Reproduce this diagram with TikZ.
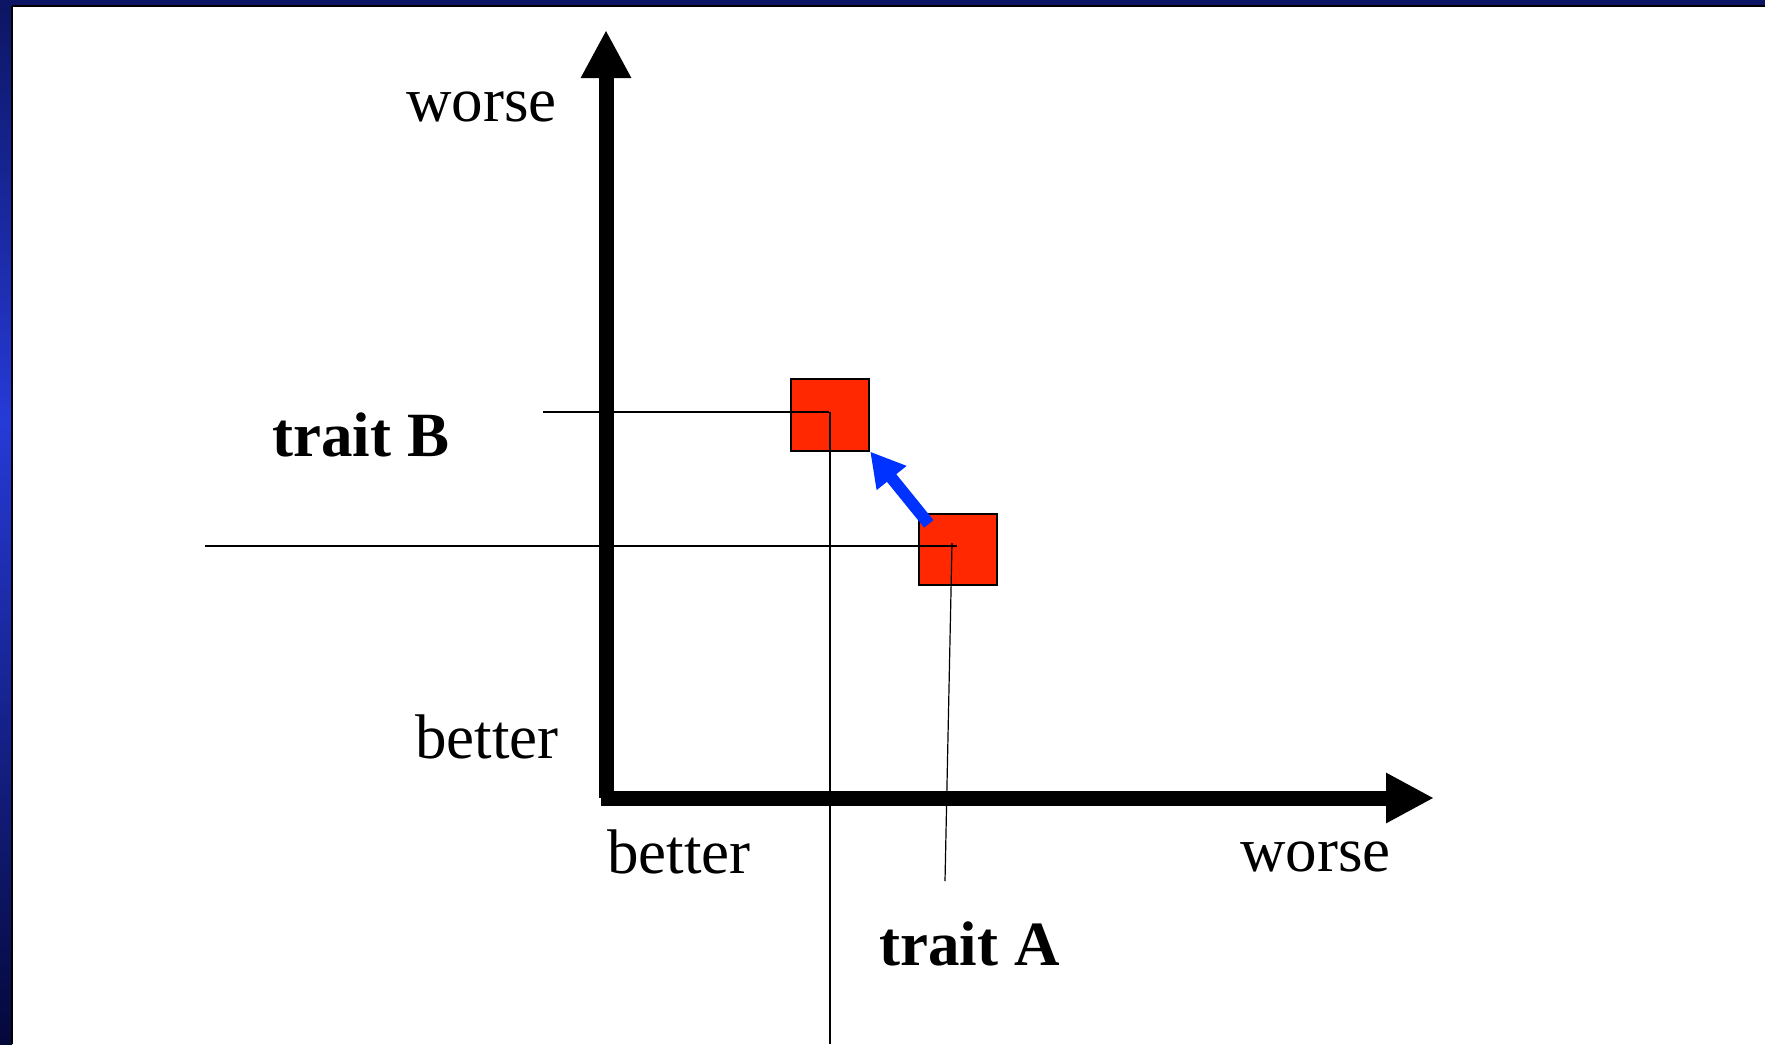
\documentclass[tikz,border=0pt]{standalone}
\usepackage{fontspec}
\setmainfont{Liberation Serif}
\definecolor{framenavy}{RGB}{12,22,100}
\definecolor{framebright}{RGB}{38,58,215}
\definecolor{framedeep}{RGB}{4,8,58}
\definecolor{traitred}{RGB}{255,40,0}
\definecolor{shiftblue}{RGB}{0,50,255}
\usetikzlibrary{arrows.meta,positioning,calc}
\tikzset{
  axis/.style={draw,line width=7.5pt,-{Triangle[length=24pt,width=23.5pt]}},
  guide/.style={draw,line width=0.6pt},
  trbox/.style={draw,line width=0.9pt,fill=traitred,minimum width=39.3pt,minimum height=35.7pt,inner sep=0pt},
  lbl/.style={anchor=base west,inner sep=0pt,font=\fontsize{31.5}{36}\selectfont},
  boldlbl/.style={lbl,font=\fontsize{31.5}{36}\selectfont\bfseries},
  pull/.style={draw,shiftblue,line width=6pt,-{Triangle[length=17pt,width=18pt]}}
}

\begin{document}
\begin{tikzpicture}[x=0.5pt,y=-0.5pt]
  \useasboundingbox (0,0) rectangle (1765,1044);
  % slide frame
  \fill[framenavy] (0,0) rectangle (1765,6);
  \shade[top color=framenavy,bottom color=framebright] (0,6) rectangle (12,420);
  \shade[top color=framebright,bottom color=framedeep] (0,420) rectangle (12,1044);
  \draw[line width=1.2pt] (12,6) -- (12,1044);
  \draw[line width=1.2pt] (12,6) -- (1765,6);

  % axes
  \coordinate (origin) at (606,798);
  \coordinate (ytip) at (606,30);
  \coordinate (xstart) at (601,798);
  \coordinate (xtip) at (1434,798);
  \draw[axis] (origin) -- (ytip);
  \draw[axis] (xstart) -- (xtip);

  % guide lines and traits
  \coordinate (bleft) at (543,412);
  \coordinate (bmark) at (829,412);
  \coordinate (bfoot) at (830,1044);
  \coordinate (aleft) at (205,546);
  \coordinate (amark) at (957,546);
  \coordinate (atop) at (952,543);
  \coordinate (afoot) at (945,881);
  \node[trbox] (boxB) at (830,415) {};
  \node[trbox] (boxA) at (958,549.5) {};
  \draw[guide] (bleft) -- (bmark);
  \draw[guide] (830,412) -- (bfoot);
  \draw[guide] (aleft) -- (amark);
  \draw[guide] (atop) -- (afoot);

  % shift from A to B
  \coordinate (pullstart) at ($(boxA.north west)+(11,11)$);
  \draw[pull] (pullstart) -- (boxB.south east);

  % labels
  \node[lbl] (yworse) at (406,121) {worse};
  \node[lbl] (ybetter) at (415,758) {better};
  \node[lbl] (xbetter) at (607,873) {better};
  \node[lbl] (xworse) at (1240,871) {worse};
  \node[boldlbl] (traitB) at (272,456) {trait B};
  \node[boldlbl] (traitA) at (879,965) {trait A};
\end{tikzpicture}
\end{document}
